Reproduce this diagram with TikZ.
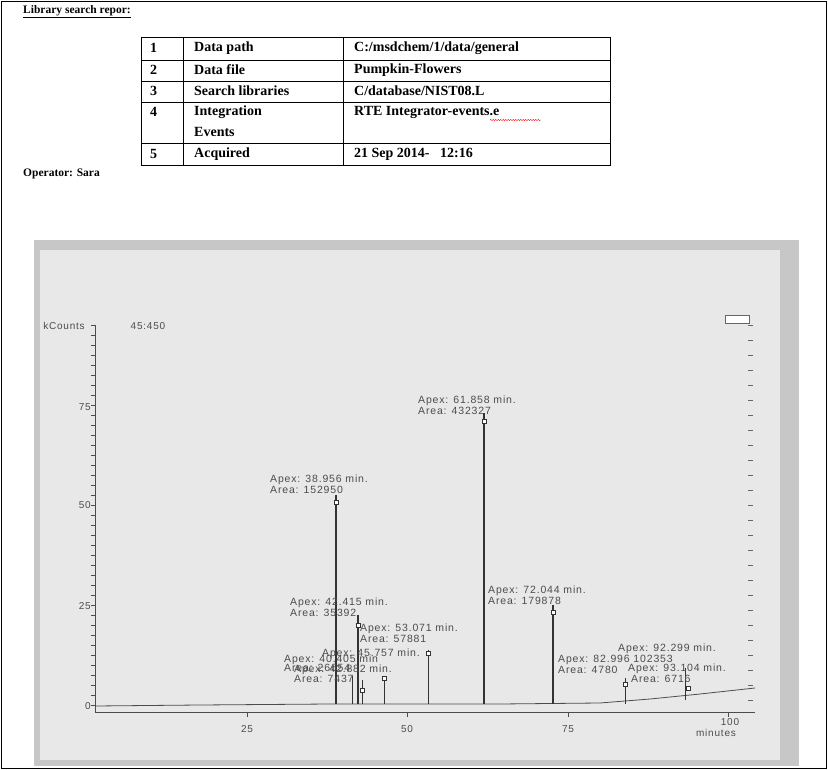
\documentclass[tikz,border=0pt]{standalone}
\usepackage{fontspec}
\setmainfont{Liberation Serif}
\newfontfamily\lab{Liberation Sans}[LetterSpace=8]
\usetikzlibrary{decorations.pathmorphing}
\begin{document}
\begin{tikzpicture}[x=1pt,y=-1pt,
  cell/.style={anchor=west,font=\bfseries\fontsize{14}{14}\selectfont,inner sep=0pt},
  plab/.style={anchor=west,font=\lab\fontsize{10.5}{9}\selectfont,text=black!70,inner sep=0pt,align=left},
  ax/.style={font=\lab\fontsize{10}{10}\selectfont,text=black!70,inner sep=0pt},
  pk/.style={draw=black!80,line width=1.3pt},
  mk/.style={draw=black!80,fill=white,line width=0.5pt,minimum size=4pt,inner sep=0pt}]
\useasboundingbox (0,0) rectangle (828,770);
\fill[white] (0,0) rectangle (828,770);
\draw[line width=0.6pt] (1,1) rectangle (826,768);
\node[cell,font=\bfseries\fontsize{11.5}{11.5}\selectfont] (title) at (23,12) {\underline{Library search repor:}};
% table
\draw[line width=0.6pt] (141,37) rectangle (610,165);
\foreach \y in {60,81,102,143} \draw[line width=0.6pt] (141,\y) -- (610,\y);
\draw[line width=0.6pt] (183,37) -- (183,165) (343,37) -- (343,165);
\node[cell] (n1) at (150,48) {1}; \node[cell] (k1) at (194,48) {Data path}; \node[cell] (v1) at (354,48) {C:/msdchem/1/data/general};
\node[cell] (n2) at (150,70) {2}; \node[cell] (k2) at (194,70) {Data file}; \node[cell] (v2) at (354,70) {Pumpkin-Flowers};
\node[cell] (n3) at (150,91) {3}; \node[cell] (k3) at (194,91) {Search libraries}; \node[cell] (v3) at (354,91) {C/database/NIST08.L};
\node[cell] (n4) at (150,112) {4}; \node[cell] (k4) at (194,112) {Integration}; \node[cell] (k4b) at (194,132) {Events}; \node[cell] (v4) at (354,112) {RTE Integrator-events.e};
\draw[red,decorate,decoration={snake,amplitude=0.6pt,segment length=2.5pt}] (490,120) -- (541,120);
\node[cell] (n5) at (150,154) {5}; \node[cell] (k5) at (194,154) {Acquired}; \node[cell] (v5) at (354,154) {21 Sep 2014-\ \ \ 12:16};
\node[cell,font=\bfseries\fontsize{11.5}{11.5}\selectfont] (op) at (23,174) {Operator: Sara};
% photo
\fill[black!22] (34,240) rectangle (799,766);
\fill[black!9] (40,250) rectangle (780,760);
% axes
\draw[black!70,line width=0.8pt] (95,325) -- (95,712) -- (755,712);
\foreach \i in {0,...,38} \draw[black!70] (91,{325+\i*10}) -- (95,{325+\i*10});
\foreach \i in {0,...,25} \draw[black!60] (748,{325+\i*15}) -- (753,{325+\i*15});
\foreach \x in {247,407,568,728} \draw[black!70] (\x,712) -- (\x,717);
\node[ax] (kc) at (64,326) {kCounts};
\node[ax] (t45) at (148,326) {45:450};
\node[ax,anchor=east] (y75) at (91,407) {75};
\node[ax,anchor=east] (y50) at (91,505) {50};
\node[ax,anchor=east] (y25) at (91,606) {25};
\node[ax,anchor=east] (y0) at (91,706) {0};
\node[ax] (x25) at (247,729) {25};
\node[ax] (x50) at (407,729) {50};
\node[ax] (x75) at (568,729) {75};
\node[ax] (x100) at (730,722) {100};
\node[ax] (xm) at (716,733) {minutes};
\draw[black!60,fill=white] (725,315) rectangle (749,323);
% baseline
\draw[black!70,line width=0.8pt] (95,706) -- (200,705) -- (330,704) -- (500,704) -- (600,703) -- (650,699) -- (700,694) -- (755,688);
% peaks
\draw[pk] (336,704) -- (336,495); \node[mk] (m1) at (336,502) {};
\draw[pk] (358,704) -- (358,615); \node[mk] (m2) at (358,625) {};
\draw[pk] (484,704) -- (484,413); \node[mk] (m3) at (484,421) {};
\draw[pk] (553,704) -- (553,605); \node[mk] (m4) at (553,612) {};
\draw[pk,line width=0.8pt] (428,704) -- (428,650); \node[mk] (m5) at (428,653) {};
\draw[pk,line width=0.8pt] (352,704) -- (352,676);
\draw[pk,line width=0.8pt] (362,704) -- (362,680); \node[mk] (m6) at (362,690) {};
\draw[pk,line width=0.8pt] (384,704) -- (384,680); \node[mk] (m7) at (384,678) {};
\draw[pk,line width=0.8pt] (625,704) -- (625,678); \node[mk] (m8) at (625,684) {};
\draw[pk,line width=0.8pt] (685,700) -- (685,668); \node[mk] (m9) at (688,688) {};
% labels
\node[plab] (l1) at (270,484) {Apex: 38.956 min.\\Area: 152950};
\node[plab] (l2) at (290,607) {Apex: 42.415 min.\\Area: 35392};
\node[plab] (l3) at (418,405) {Apex: 61.858 min.\\Area: 432327};
\node[plab] (l4) at (488,595) {Apex: 72.044 min.\\Area: 179878};
\node[plab] (l5) at (360,633) {Apex: 53.071 min.\\Area: 57881};
\node[plab] (l6) at (322,654) {Apex: 45.757 min.};
\node[plab] (l7) at (284,660) {Apex: 40.405 min};
\node[plab] (l8) at (284,668) {Area: 26654};
\node[plab] (l9) at (294,670) {Apex: 42.882 min.};
\node[plab] (l10) at (294,679) {Area: 7437};
\node[plab] (l11) at (618,649) {Apex: 92.299 min.};
\node[plab] (l12) at (558,660) {Apex: 82.996 102353};
\node[plab] (l13) at (558,670) {Area: 4780};
\node[plab] (l14) at (628,669) {Apex: 93.104 min.};
\node[plab] (l15) at (631,679) {Area: 6716};
\end{tikzpicture}
\end{document}
